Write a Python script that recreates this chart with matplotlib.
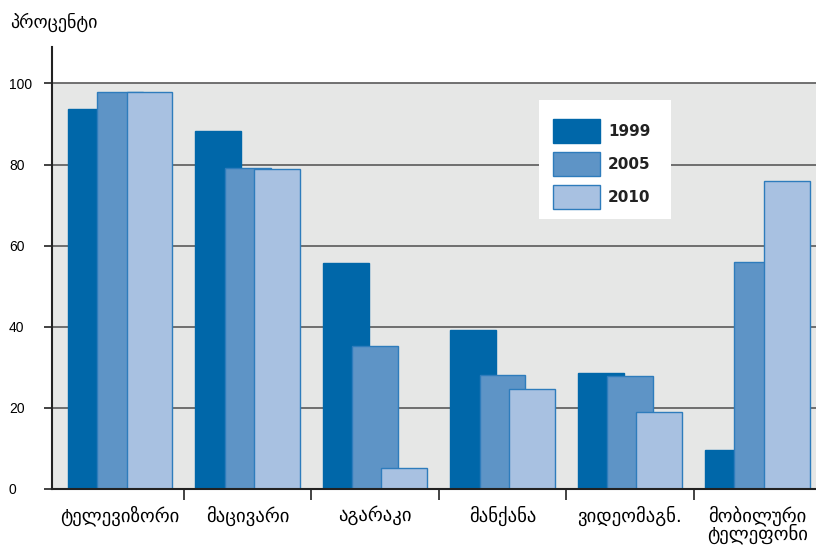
import numpy as np
import matplotlib
matplotlib.use("Agg")
import matplotlib.pyplot as plt
from matplotlib.ticker import FixedLocator
from matplotlib.patches import Rectangle

categories = ["ტელევიზორი", "მაცივარი", "აგარაკი", "მანქანა", "ვიდეომაგნ.", "მობილური\nტელეფონი"]
years = ["1999", "2005", "2010"]
v1999 = [93.6, 88.2, 55.7, 39.2, 28.5, 9.6]
v2005 = [97.8, 79.2, 35.3, 28.1, 27.8, 56.0]
v2010 = [97.8, 78.8, 5.2, 24.7, 19.0, 76.0]
yticks = [0, 20, 40, 60, 80, 100]

colors = ["#0067a9", "#5e94c6", "#a8c1e1"]
edges = ["#0067a9", "#2e7cbc", "#2e7cbc"]

plt.rcParams['font.family'] = ['DejaVu Sans']

fig = plt.figure(figsize=(8.16, 5.46), dpi=100)
ax = fig.add_axes([52/816, 57/546, 1 - 52/816, 442/546])

x = np.arange(len(categories))
# fondo gris solo hasta 100
ax.axhspan(0, 100, color="#e6e7e6", zorder=0)
for y in yticks[1:]:
    ax.axhline(y, color="#5a5a5a", lw=1.2, zorder=1)

offs = [-0.23, 0, 0.23]
for i, vals in enumerate([v1999, v2005, v2010]):
    ax.bar(x + offs[i], vals, width=0.36, color=colors[i], edgecolor=edges[i],
           linewidth=1, label=years[i], zorder=2 + i)

ax.set_xlim(-0.535, 5.46)
ax.set_ylim(0, 109)

for s in ["top", "right"]:
    ax.spines[s].set_visible(False)
ax.spines["left"].set_color("#222222")
ax.spines["left"].set_linewidth(1.5)
ax.spines["bottom"].set_color("#222222")
ax.spines["bottom"].set_linewidth(1.5)
ax.spines["bottom"].set_zorder(6)

ax.set_yticks(yticks)
ax.tick_params(axis="y", length=6, width=1.2, color="#222222", labelsize=10, pad=25)
for t in ax.get_yticklabels():
    t.set_horizontalalignment("left")
    t.set_family("Liberation Sans")

ax.set_xticks(x)
ax.set_xticklabels(categories, fontsize=13.5, linespacing=0.85, va="top")
ax.tick_params(axis="x", which="major", length=0, pad=12)
ax.xaxis.set_minor_locator(FixedLocator(x[:-1] + 0.5))
ax.tick_params(axis="x", which="minor", length=8, width=1.2, color="#222222")

fig.text(10/816, 1 - 22/546, "პროცენტი", fontsize=13, va="center", ha="left")

# caja blanca de la leyenda (dentro del axes para que quede debajo de la leyenda)
box = Rectangle((539/816, 1 - 219/546), 132/816, 119/546, transform=fig.transFigure,
                facecolor="white", edgecolor="none", zorder=9, clip_on=False)
ax.add_patch(box)

leg = ax.legend(loc="upper left", bbox_to_anchor=(553/816, 1 - 119/546),
                bbox_transform=fig.transFigure, borderaxespad=0, borderpad=0,
                handlelength=3.08, handleheight=2.04, handletextpad=0.52,
                labelspacing=0.59, frameon=False,
                prop={"weight": "bold", "size": 11})
leg.set_zorder(10)
for t in leg.get_texts():
    t.set_color("#222222")

fig.savefig("out.png", dpi=100)
